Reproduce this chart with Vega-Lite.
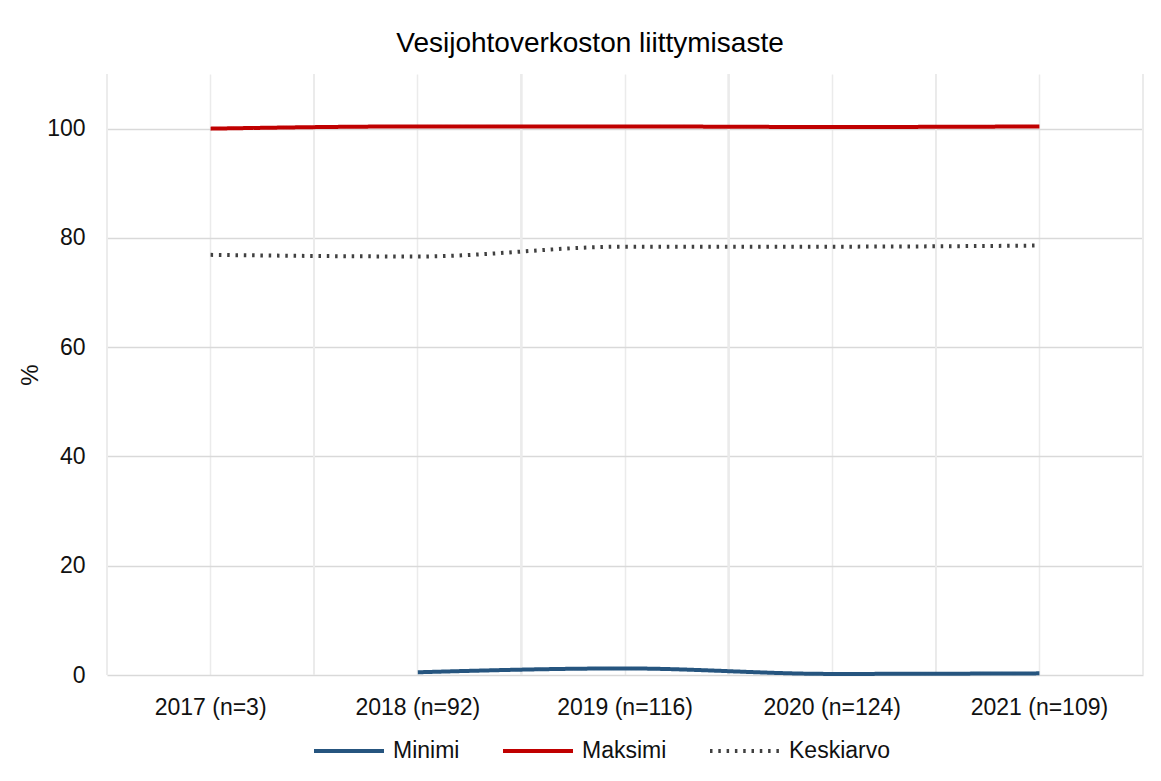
{
  "$schema": "https://vega.github.io/schema/vega-lite/v6.json",
  "width": 1036,
  "height": 601,
  "autosize": {"type": "none"},
  "padding": {"left": 107, "top": 74, "right": 18, "bottom": 106},
  "background": "white",
  "config": {"view": {"stroke": null}, "font": "Liberation Sans"},
  "title": {
    "text": "Vesijohtoverkoston liittymisaste",
    "fontSize": 28,
    "fontWeight": "normal",
    "font": "Liberation Sans",
    "color": "#000000",
    "anchor": "middle",
    "dx": -35,
    "offset": -7,
    "baseline": "alphabetic"
  },
  "data": {
    "values": [
      {"series": "Maksimi", "label": "2017 (n=3)", "value": 100.0},
      {"series": "Maksimi", "label": "2018 (n=92)", "value": 100.4},
      {"series": "Maksimi", "label": "2019 (n=116)", "value": 100.4},
      {"series": "Maksimi", "label": "2020 (n=124)", "value": 100.3},
      {"series": "Maksimi", "label": "2021 (n=109)", "value": 100.4},
      {"series": "Keskiarvo", "label": "2017 (n=3)", "value": 76.9},
      {"series": "Keskiarvo", "label": "2018 (n=92)", "value": 76.6},
      {"series": "Keskiarvo", "label": "2019 (n=116)", "value": 78.4},
      {"series": "Keskiarvo", "label": "2020 (n=124)", "value": 78.4},
      {"series": "Keskiarvo", "label": "2021 (n=109)", "value": 78.6},
      {"series": "Minimi", "label": "2018 (n=92)", "value": 0.5},
      {"series": "Minimi", "label": "2019 (n=116)", "value": 1.2},
      {"series": "Minimi", "label": "2020 (n=124)", "value": 0.2},
      {"series": "Minimi", "label": "2021 (n=109)", "value": 0.3}
    ]
  },
  "layer": [
    {
      "mark": {"type": "rule", "color": "#ebebeb", "strokeWidth": 1.5},
      "encoding": {
        "x": {"field": "label", "type": "nominal", "bandPosition": 0, "sort": ["2017 (n=3)", "2018 (n=92)", "2019 (n=116)", "2020 (n=124)", "2021 (n=109)"],
              "scale": {"type": "band", "paddingInner": 0, "paddingOuter": 0}}
      }
    },
    {
      "mark": {"type": "rule", "color": "#ebebeb", "strokeWidth": 1.5},
      "encoding": {
        "x": {"field": "label", "type": "nominal", "bandPosition": 1, "sort": ["2017 (n=3)", "2018 (n=92)", "2019 (n=116)", "2020 (n=124)", "2021 (n=109)"],
              "scale": {"type": "band", "paddingInner": 0, "paddingOuter": 0}}
      }
    },
    {
      "mark": {"type": "line", "interpolate": "monotone"},
      "encoding": {
        "x": {
          "field": "label", "type": "nominal", "bandPosition": 0.5,
          "sort": ["2017 (n=3)", "2018 (n=92)", "2019 (n=116)", "2020 (n=124)", "2021 (n=109)"],
          "scale": {"type": "band", "paddingInner": 0, "paddingOuter": 0},
          "axis": {
            "title": null, "labelFontSize": 23, "labelColor": "#111111",
            "labelFont": "Liberation Sans", "labelPadding": 32, "labelAngle": 0, "labelAlign": "center",
            "ticks": false, "domain": false, "grid": true, "gridColor": "#ebebeb", "gridWidth": 1.5
          }
        },
        "y": {
          "field": "value", "type": "quantitative",
          "scale": {"domain": [0, 110], "nice": false},
          "axis": {
            "title": "%", "titleFontSize": 24, "titleFont": "Liberation Sans", "titleFontWeight": "normal",
            "titleColor": "#111111", "titlePadding": 4, "values": [0, 20, 40, 60, 80, 100],
            "labelFontSize": 23, "labelColor": "#111111", "labelFont": "Liberation Sans", "labelPadding": 22,
            "ticks": false, "domain": false, "gridColor": "#d9d9d9", "gridWidth": 1.5
          }
        },
        "color": {
          "field": "series", "type": "nominal",
          "scale": {"domain": ["Minimi", "Maksimi", "Keskiarvo"], "range": ["#26557f", "#c00000", "#404040"]},
          "legend": {
            "title": null, "orient": "none", "legendX": 205, "legendY": 640, "direction": "horizontal",
            "symbolType": "stroke", "symbolSize": 4900, "labelFontSize": 23, "labelFont": "Liberation Sans",
            "labelColor": "#111111", "labelOffset": 7, "columnPadding": 35
          }
        },
        "strokeDash": {
          "field": "series", "type": "nominal",
          "scale": {"domain": ["Minimi", "Maksimi", "Keskiarvo"], "range": [[1, 0], [1, 0], [2.5, 5.8]]}
        },
        "strokeWidth": {
          "field": "series", "type": "nominal",
          "scale": {"domain": ["Minimi", "Maksimi", "Keskiarvo"], "range": [4, 4, 3]}
        }
      }
    }
  ]
}
